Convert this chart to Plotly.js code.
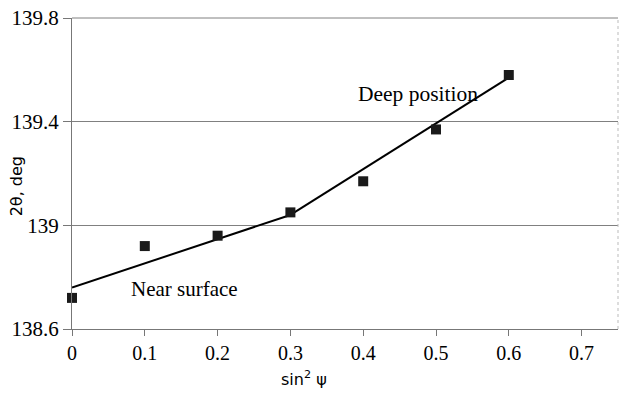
<!DOCTYPE html>
<html>
<head>
<meta charset="utf-8">
<script src="https://cdn.plot.ly/plotly-3.0.1.min.js"></script>
<style>html,body{margin:0;padding:0;background:#fff;}#chart{width:619px;height:399px;}</style>
</head>
<body>
<div id="chart"></div>
<script>
// Measured points
const sin2psi = [0, 0.1, 0.2, 0.3, 0.4, 0.5, 0.6];
const twoTheta = [138.72, 138.92, 138.96, 139.05, 139.17, 139.37, 139.58];
// Fitted segments
const nearX = [0, 0.3];
const nearY = [138.76, 139.04];
const deepX = [0.3, 0.6];
const deepY = [139.04, 139.57];
// Ticks
const xTicks = [0, 0.1, 0.2, 0.3, 0.4, 0.5, 0.6, 0.7];
const xTickText = ['0', '0.1', '0.2', '0.3', '0.4', '0.5', '0.6', '0.7'];
const yTicks = [138.6, 139, 139.4, 139.8];
const yTickText = ['138.6', '139', '139.4', '139.8'];

const serif = 'Times New Roman, Liberation Serif, serif';
const sans = 'DejaVu Sans, sans-serif';

const traces = [
  {x: nearX, y: nearY, mode: 'lines', line: {color: '#000', width: 2}, hoverinfo: 'skip', cliponaxis: false},
  {x: deepX, y: deepY, mode: 'lines', line: {color: '#000', width: 2}, hoverinfo: 'skip', cliponaxis: false},
  {x: sin2psi, y: twoTheta, mode: 'markers', cliponaxis: false,
   marker: {symbol: 'square', size: 10, color: '#1a1a1a', line: {width: 0}}}
];

const layout = {
  width: 619, height: 399,
  margin: {l: 72, r: 1, t: 18, b: 70},
  paper_bgcolor: '#fff', plot_bgcolor: '#fff',
  font: {family: serif, size: 20, color: '#000'},
  showlegend: false,
  xaxis: {
    range: [0, 0.75], tickvals: xTicks, ticktext: xTickText,
    showgrid: false, zeroline: false, showline: true, linecolor: '#777', linewidth: 1,
    ticks: 'outside', ticklen: 6, tickcolor: '#777',
    tickfont: {family: serif, size: 20, color: '#000'}
  },
  yaxis: {
    range: [138.6, 139.8], tickvals: yTicks, ticktext: yTickText,
    showgrid: true, gridcolor: '#808080', gridwidth: 1,
    zeroline: false, showline: true, linecolor: '#777', linewidth: 1,
    ticks: 'outside', ticklen: 8, tickcolor: '#777',
    tickfont: {family: serif, size: 21, color: '#000'}
  },
  shapes: [
    {type: 'line', xref: 'paper', yref: 'paper', x0: 1, x1: 1, y0: 0, y1: 1,
     line: {color: '#bbb', width: 1, dash: 'dot'}},
    {type: 'line', xref: 'paper', yref: 'paper', x0: 0, x1: 1, y0: 1, y1: 1,
     line: {color: '#808080', width: 1}}
  ],
  annotations: [
    {text: 'Near surface', x: 0.155, y: 138.755, xref: 'x', yref: 'y', showarrow: false,
     font: {family: serif, size: 21, color: '#000'}},
    {text: 'Deep position', x: 0.475, y: 139.508, xref: 'x', yref: 'y', showarrow: false,
     font: {family: serif, size: 21.5, color: '#000'}},
    {text: '2θ, deg', xref: 'paper', yref: 'paper', x: -0.1, y: 0.46, xanchor: 'center', yanchor: 'middle',
     textangle: -90, showarrow: false, font: {family: sans, size: 16, color: '#000'}},
    {text: 'sin<sup>2</sup> ψ', xref: 'paper', yref: 'paper', x: 0.425, y: -0.16, xanchor: 'center', yanchor: 'middle',
     showarrow: false, font: {family: sans, size: 16, color: '#000'}}
  ]
};

Plotly.newPlot('chart', traces, layout, {displayModeBar: false, staticPlot: true});
</script>
</body>
</html>
